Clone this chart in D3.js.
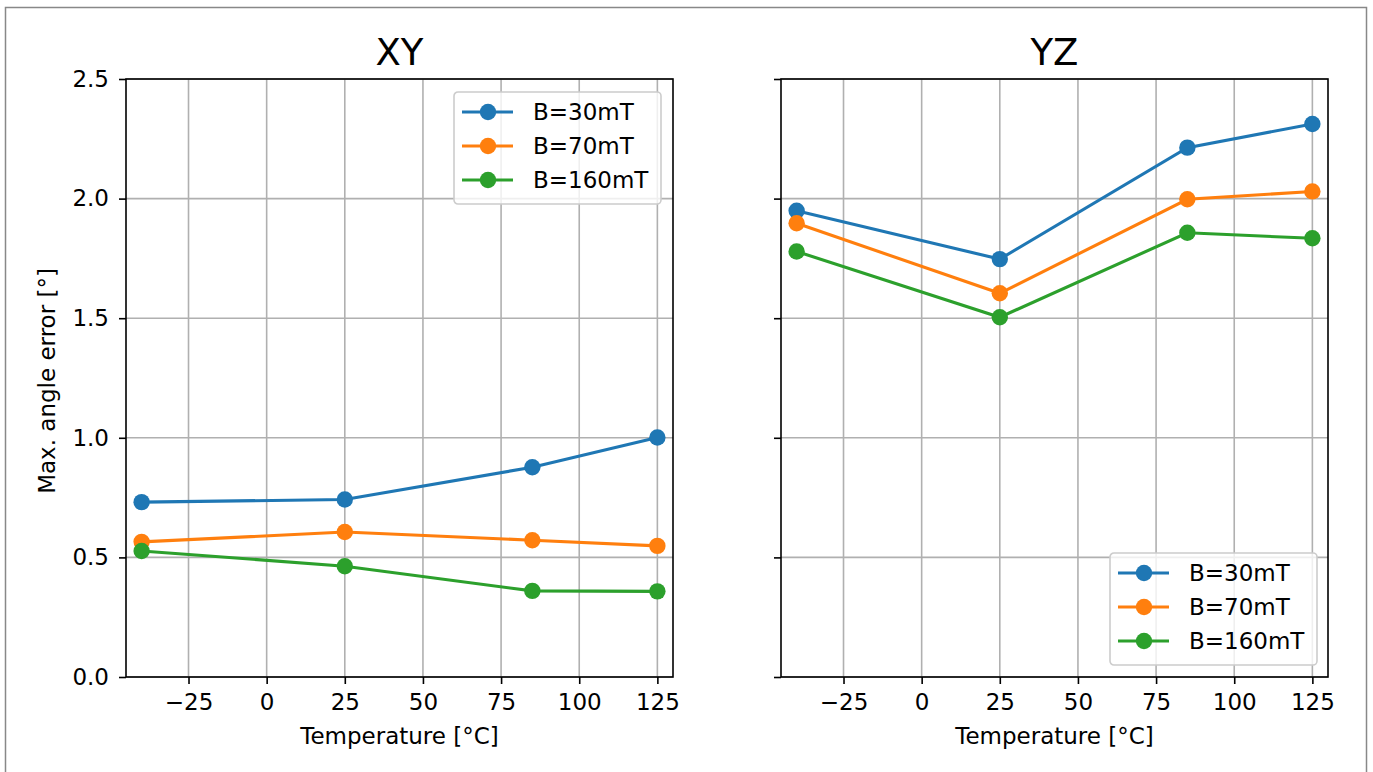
<!DOCTYPE html>
<html>
<head>
<meta charset="utf-8">
<script src="https://cdn.jsdelivr.net/npm/d3@7"></script>
<style>
  body { margin: 0; background: #fff; }
  text { font-family: "DejaVu Sans", sans-serif; fill: #000; }
</style>
</head>
<body>
<div id="chart"></div>
<script>
var width = 1373
var height = 772

// data
var temps = [-40, 25, 85, 125];
var seriesNames = ['B=30mT', 'B=70mT', 'B=160mT'];
var colors = ['#1f77b4', '#ff7f0e', '#2ca02c'];

var xy30 = [0.731, 0.742, 0.877, 1.001];
var xy70 = [0.565, 0.606, 0.572, 0.548];
var xy160 = [0.527, 0.463, 0.360, 0.358];

var yz30 = [1.949, 1.747, 2.213, 2.312];
var yz70 = [1.897, 1.604, 1.997, 2.030];
var yz160 = [1.779, 1.504, 1.857, 1.834];

var xTicks = [-25, 0, 25, 50, 75, 100, 125];
var yTicks = [0.0, 0.5, 1.0, 1.5, 2.0, 2.5];

var panels = [
  { title: 'XY', left: 126, series: [xy30, xy70, xy160], legend: { x: 454, y: 92 }, yLabels: true },
  { title: 'YZ', left: 781, series: [yz30, yz70, yz160], legend: { x: 1110, y: 553 }, yLabels: false }
];

var plotW = 547;
var plotTop = 79;
var plotH = 598;
var fontSize = 23;

var svg = d3.select('#chart')
            .append('svg')
            .attr('width', width)
            .attr('height', height);

// outer frame
svg.append('rect')
   .attr('x', 5.5).attr('y', 7.5)
   .attr('width', 1361).attr('height', 800)
   .attr('fill', 'none')
   .attr('stroke', '#888')
   .attr('stroke-width', 1.5);

var y = d3.scaleLinear().domain([0, 2.5]).range([plotTop + plotH, plotTop]);

function fmtX(d) { return d < 0 ? '\u2212' + Math.abs(d) : '' + d; }

panels.forEach(function(p) {
    var x = d3.scaleLinear().domain([-45, 130]).range([p.left, p.left + plotW]);
    var g = svg.append('g');

    // grid
    g.selectAll('line.gx').data(xTicks).enter().append('line')
     .attr('x1', function(d) { return x(d); }).attr('x2', function(d) { return x(d); })
     .attr('y1', plotTop).attr('y2', plotTop + plotH)
     .attr('stroke', '#b0b0b0').attr('stroke-width', 1.6);
    g.selectAll('line.gy').data(yTicks).enter().append('line')
     .attr('y1', function(d) { return y(d); }).attr('y2', function(d) { return y(d); })
     .attr('x1', p.left).attr('x2', p.left + plotW)
     .attr('stroke', '#b0b0b0').attr('stroke-width', 1.6);

    // lines + markers
    var line = d3.line()
                 .x(function(d, i) { return x(temps[i]); })
                 .y(function(d) { return y(d); });

    p.series.forEach(function(vals, k) {
        g.append('path')
         .datum(vals)
         .attr('d', line)
         .attr('fill', 'none')
         .attr('stroke', colors[k])
         .attr('stroke-width', 3.1);
        g.selectAll('circle.s' + k).data(vals).enter().append('circle')
         .attr('class', 's' + k)
         .attr('cx', function(d, i) { return x(temps[i]); })
         .attr('cy', function(d) { return y(d); })
         .attr('r', 8.2)
         .attr('fill', colors[k]);
    });

    // axes
    var xAxis = d3.axisBottom(x).tickValues(xTicks).tickFormat(fmtX).tickSizeInner(7).tickSizeOuter(0).tickPadding(10);
    var gx = svg.append('g').attr('transform', 'translate(0,' + (plotTop + plotH) + ')').call(xAxis);
    var yAxis = d3.axisLeft(y).tickValues(yTicks).tickFormat(p.yLabels ? d3.format('.1f') : function() { return ''; })
                  .tickSizeInner(7).tickSizeOuter(0).tickPadding(10);
    var gy = svg.append('g').attr('transform', 'translate(' + p.left + ',0)').call(yAxis);

    [gx, gy].forEach(function(a) {
        a.select('.domain').remove();
        a.selectAll('line').attr('stroke', '#000').attr('stroke-width', 1.6);
        a.selectAll('text').attr('font-size', fontSize).attr('font-family', 'DejaVu Sans').attr('fill', '#000');
    });

    // spines
    svg.append('rect')
       .attr('x', p.left).attr('y', plotTop)
       .attr('width', plotW).attr('height', plotH)
       .attr('fill', 'none').attr('stroke', '#000').attr('stroke-width', 1.6);

    // title and x label
    svg.append('text')
       .attr('x', p.left + plotW / 2).attr('y', 65)
       .attr('text-anchor', 'middle')
       .attr('font-size', 37)
       .text(p.title);
    svg.append('text')
       .attr('x', p.left + plotW / 2).attr('y', 744)
       .attr('text-anchor', 'middle')
       .attr('font-size', fontSize)
       .text('Temperature [\u00b0C]');

    // legend
    var lg = svg.append('g').attr('transform', 'translate(' + p.legend.x + ',' + p.legend.y + ')');
    lg.append('rect')
      .attr('width', 207).attr('height', 112)
      .attr('rx', 4)
      .attr('fill', 'rgba(255,255,255,0.8)')
      .attr('stroke', '#cccccc').attr('stroke-width', 1.6);
    seriesNames.forEach(function(name, k) {
        var ry = 20 + k * 34;
        lg.append('line')
          .attr('x1', 8).attr('x2', 59).attr('y1', ry).attr('y2', ry)
          .attr('stroke', colors[k]).attr('stroke-width', 3.1);
        lg.append('circle').attr('cx', 34).attr('cy', ry).attr('r', 8.2).attr('fill', colors[k]);
        lg.append('text')
          .attr('x', 79).attr('y', ry + 8.3)
          .attr('font-size', fontSize)
          .text(name);
    });
});

// y label
svg.append('text')
   .attr('transform', 'translate(55,381) rotate(-90)')
   .attr('text-anchor', 'middle')
   .attr('font-size', fontSize)
   .text('Max. angle error [\u00b0]');
</script>
</body>
</html>
